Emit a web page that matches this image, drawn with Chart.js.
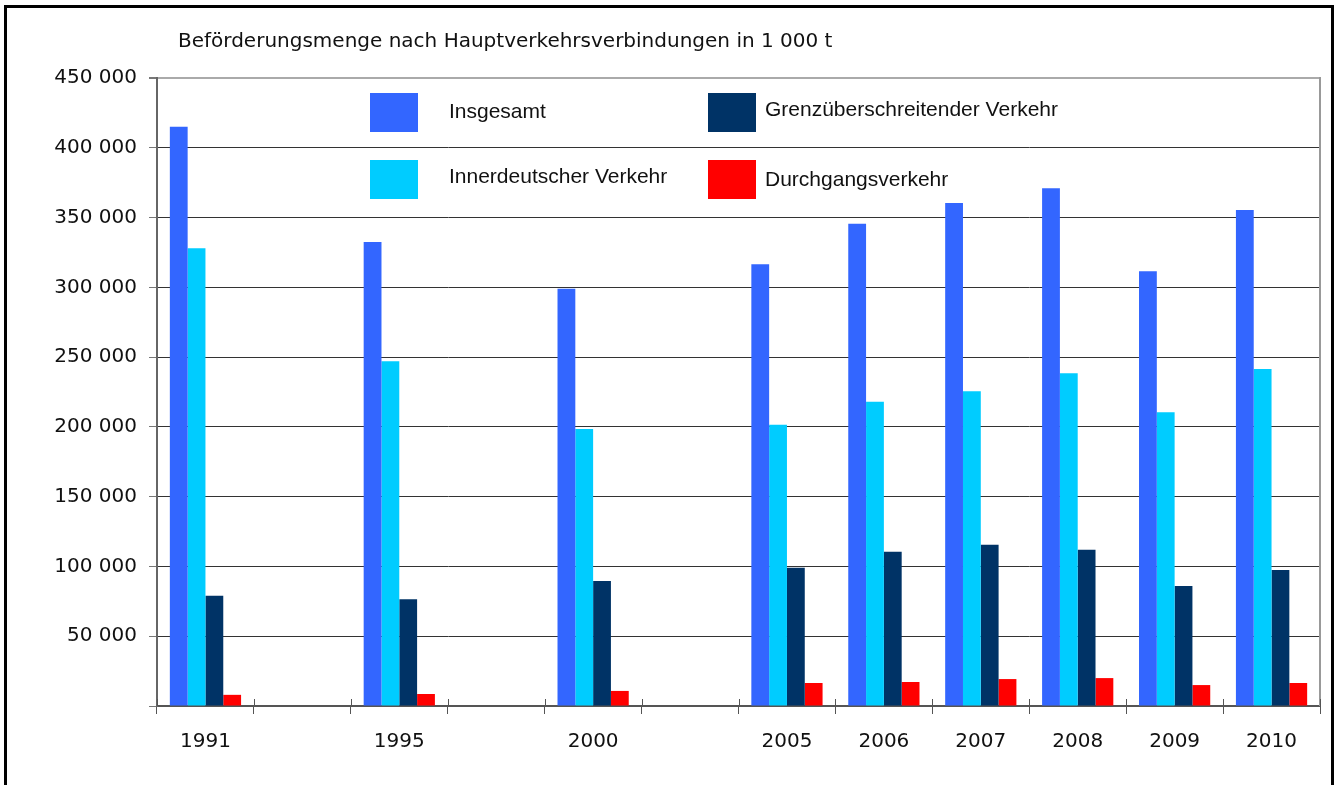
<!DOCTYPE html>
<html>
<head>
<meta charset="utf-8">
<script src="https://cdn.jsdelivr.net/npm/chart.js@4"></script>
<style>
  html, body { margin: 0; padding: 0; background: #fff; overflow: hidden; }
  #frame { position: absolute; left: 4px; top: 5px; width: 1324px; height: 820px; border: 3px solid #000; }
  #chart { position: absolute; left: 0; top: 0; }
</style>
</head>
<body>
<div id="frame"></div>
<canvas id="chart" width="1336" height="785"></canvas>
<script>
// Kategorien (leere Felder = Lücken zwischen den Jahren)
const years = ['1991', '', '1995', '', '2000', '', '2005', '2006', '2007', '2008', '2009', '2010'];

// Werte in 1 000 t
const insgesamt      = [415000, null, 332500, null, 299000, null, 316500, 345500, 360500, 371000, 311500, 355500];
const innerdeutsch   = [328000, null, 247000, null, 198500, null, 201500, 218000, 225500, 238500, 210500, 241500];
const grenzueber     = [79000,  null, 76500,  null, 89500,  null, 99000,  110500, 115500, 112000, 86000,  97500];
const durchgang      = [8000,   null, 8600,   null, 10800,  null, 16500,  17200,  19300,  20000,  15000,  16500];

const yTicks = [0, 50000, 100000, 150000, 200000, 250000, 300000, 350000, 400000, 450000];

const titleText = 'Beförderungsmenge nach Hauptverkehrsverbindungen in 1 000 t';

function fmt(v) {
    return String(v).replace(/\B(?=(\d{3})+(?!\d))/g, ' ');
}

// Titel + Legende (2x2) direkt ins Diagramm zeichnen
const legendPos = [
    { box: [370, 93],  text: [449, 112] },
    { box: [370, 160], text: [449, 177] },
    { box: [708, 93],  text: [765, 110] },
    { box: [708, 160], text: [765, 180] }
];

const extras = {
    id: 'extras',
    afterDraw(chart) {
        const ctx = chart.ctx;
        const area = chart.chartArea;
        ctx.save();
        // rechter Rand der Zeichenfläche
        ctx.strokeStyle = '#999';
        ctx.lineWidth = 2;
        ctx.beginPath();
        ctx.moveTo(area.right, area.top - 1);
        ctx.lineTo(area.right, area.bottom);
        ctx.stroke();

        // kleine Striche der x-Achse nach oben
        const xs = chart.scales.x;
        ctx.strokeStyle = '#555';
        ctx.lineWidth = 1;
        for (let i = 0; i <= years.length; i++) {
            const x = Math.round(xs.left + i * (xs.right - xs.left) / years.length) + 0.5;
            ctx.beginPath();
            ctx.moveTo(x, area.bottom - 7);
            ctx.lineTo(x, area.bottom);
            ctx.stroke();
        }

        // Titel
        ctx.fillStyle = '#111';
        ctx.font = '20px "DejaVu Sans"';
        ctx.textBaseline = 'middle';
        ctx.textAlign = 'left';
        ctx.fillText(titleText, 178, 42);

        // Legende
        ctx.font = '21px "Liberation Sans", Arial';
        chart.data.datasets.forEach((ds, i) => {
            const p = legendPos[i];
            ctx.fillStyle = ds.backgroundColor;
            ctx.fillRect(p.box[0], p.box[1], 48, 39);
            ctx.fillStyle = '#111';
            ctx.fillText(ds.label, p.text[0], p.text[1]);
        });
        ctx.restore();
    }
};

new Chart(document.getElementById('chart'), {
    type: 'bar',
    data: {
        labels: years,
        datasets: [
            { label: 'Insgesamt', data: insgesamt, backgroundColor: '#3366FF' },
            { label: 'Innerdeutscher Verkehr', data: innerdeutsch, backgroundColor: '#00CCFF' },
            { label: 'Grenzüberschreitender Verkehr', data: grenzueber, backgroundColor: '#003366' },
            { label: 'Durchgangsverkehr', data: durchgang, backgroundColor: '#FF0000' }
        ]
    },
    options: {
        responsive: false,
        animation: false,
        layout: { padding: { left: 0, top: 78, right: 16, bottom: 0 } },
        datasets: {
            bar: { categoryPercentage: 0.735, barPercentage: 1.0, borderWidth: 0 }
        },
        scales: {
            x: {
                afterFit: s => { s.height = 79; },
                grid: {
                    display: true,
                    drawOnChartArea: false,
                    drawTicks: true,
                    tickLength: 8,
                    tickColor: '#555',
                    offset: true
                },
                border: { color: '#555', width: 2 },
                ticks: {
                    color: '#111',
                    padding: 16,
                    autoSkip: false,
                    maxRotation: 0,
                    font: { family: 'DejaVu Sans', size: 20 }
                }
            },
            y: {
                min: 0,
                max: 450000,
                afterFit: s => { s.width = 157; },
                afterBuildTicks: s => { s.ticks = yTicks.map(v => ({ value: v })); },
                grid: {
                    color: c => (c.tick && c.tick.value === 450000) ? '#aaa' : '#333',
                    lineWidth: c => (c.tick && c.tick.value === 450000) ? 2 : 1,
                    tickLength: 8,
                    tickColor: '#777'
                },
                border: { color: '#666', width: 2 },
                ticks: {
                    color: '#111',
                    padding: 12,
                    font: { family: 'DejaVu Sans', size: 20 },
                    callback: v => v === 0 ? '' : fmt(v)
                }
            }
        },
        plugins: {
            legend: { display: false },
            title: { display: false },
            tooltip: { enabled: false }
        }
    },
    plugins: [extras]
});
</script>
</body>
</html>
